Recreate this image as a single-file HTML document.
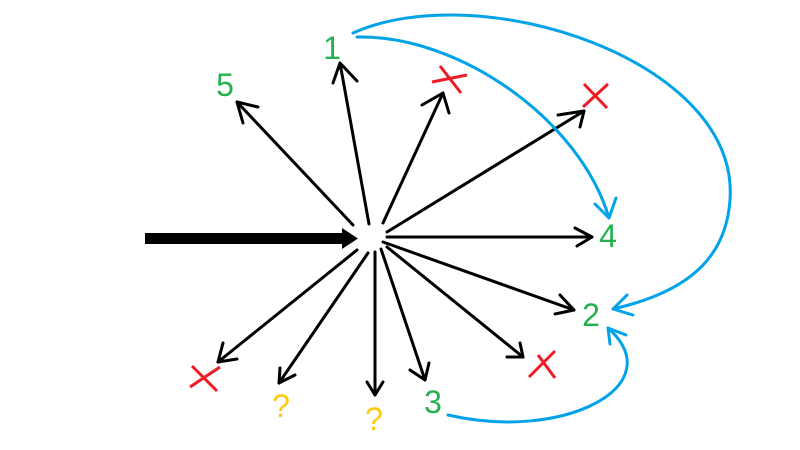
<!DOCTYPE html>
<html>
<head>
<meta charset="utf-8">
<style>
html,body{margin:0;padding:0;background:#fff;}
svg{display:block;}
text{font-family:"Liberation Sans",sans-serif;font-size:32px;}
</style>
</head>
<body>
<svg width="800" height="450" viewBox="0 0 800 450" xmlns="http://www.w3.org/2000/svg">
<rect width="800" height="450" fill="#fff"/>
<!-- thick input arrow -->
<rect x="145" y="233" width="200" height="11" fill="#000"/>
<polygon points="342,228 358,238.5 342,249" fill="#000"/>

<g stroke="#000" stroke-width="3" fill="none" stroke-linecap="round" stroke-linejoin="round">
  <line x1="353" y1="225" x2="237" y2="102"/>
  <polyline points="258,107 237,102 243,123"/>
  <line x1="369" y1="224" x2="340" y2="63"/>
  <polyline points="333,83 340,63 357,81"/>
  <line x1="383" y1="223" x2="443" y2="93"/>
  <polyline points="422,105 443,93 449,113"/>
  <line x1="387" y1="232" x2="584" y2="111"/>
  <polyline points="558,115 584,111 580,127"/>
  <line x1="387" y1="237" x2="592" y2="237"/>
  <polyline points="575,228 592,237 577,246"/>
  <line x1="383" y1="242" x2="574" y2="310"/>
  <polyline points="560,295 574,310 555,314"/>
  <line x1="387" y1="247" x2="523" y2="357"/>
  <polyline points="520,343 523,357 507,357"/>
  <line x1="381" y1="249" x2="425" y2="380"/>
  <polyline points="410,370 425,380 429,363"/>
  <line x1="375" y1="252" x2="375" y2="395"/>
  <polyline points="367,382 375,395 383,382"/>
  <line x1="368" y1="253" x2="279" y2="383"/>
  <polyline points="280,368 279,383 295,375"/>
  <line x1="357" y1="250" x2="218" y2="362"/>
  <polyline points="223,343 218,362 237,359"/>
</g>

<g stroke="#ED1C24" stroke-width="3" fill="none" stroke-linecap="butt">
  <line x1="432" y1="82" x2="467" y2="75"/>
  <line x1="440" y1="66" x2="461" y2="93"/>
  <line x1="583" y1="107" x2="608" y2="84"/>
  <line x1="584" y1="84" x2="607" y2="108"/>
  <line x1="529" y1="377" x2="555" y2="351"/>
  <line x1="538" y1="355" x2="555" y2="378"/>
  <line x1="190" y1="387" x2="220" y2="367"/>
  <line x1="192" y1="366" x2="217" y2="391"/>
</g>

<g stroke="#00A2E8" stroke-width="3" fill="none" stroke-linecap="round" stroke-linejoin="round">
  <path d="M353,33 C480,-24 740,60 730,200 C726,258 688,292 613,309"/>
  <polyline points="627,295 613,309 633,315"/>
  <path d="M357,37 C460,35 580,120 609,218"/>
  <polyline points="595,204 609,218 616,198"/>
  <path d="M448,415 C565,442 672,385 608,328"/>
  <polyline points="610,344 608,328 626,335"/>
</g>

<g fill="#22B14C" text-anchor="middle">
  <text x="225" y="96">5</text>
  <text x="332" y="59">1</text>
  <text x="608" y="247">4</text>
  <text x="591" y="326">2</text>
  <text x="433" y="413">3</text>
</g>
<g fill="#FFC90E" text-anchor="middle" style="font-size:30px">
  <text x="281" y="417">?</text>
  <text x="374" y="430">?</text>
</g>
</svg>
</body>
</html>
